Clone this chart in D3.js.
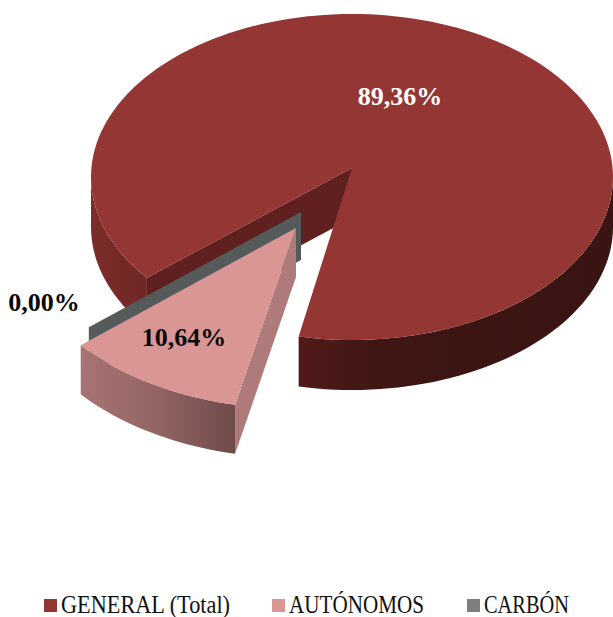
<!DOCTYPE html>
<html>
<head>
<meta charset="utf-8">
<script src="https://cdn.jsdelivr.net/npm/d3@7"></script>
<style>
  html, body { margin: 0; padding: 0; background: #fff; }
  text { font-family: "Liberation Serif", serif; }
</style>
</head>
<body>
<div id="chart"></div>
<script>
var categories = ["GENERAL (Total)", "AUTÓNOMOS", "CARBÓN"];
var values = [89.36, 10.64, 0];
var valueLabels = ["89,36%", "10,64%", "0,00%"];
var colors = ["#943634", "#d99694", "#7f7f7f"];

var width = 613,
  height = 617;
var toRad = Math.PI / 180;
var startAngle = 231.8 * toRad;
// the cut in the main slice is a little wider than the slice pulled out of it
var cutGap = 1.7 * toRad;
var pinkTurn = -0.8 * toRad;

// the pie lies tilted, so its apex sits a bit above the middle of the ellipse
var mainPie = { x: 352, y: 168, rx: 261, ry: 163, drop: 9, depth: 50 };
var pinkPie = { x: 296, y: 228, rx: 277, ry: 172, drop: 9, depth: 49 };
var greyPie = { x: 301, y: 212, rx: 270, ry: 172, drop: 9, depth: 48 };

var svg = d3
  .select("#chart")
  .append("svg")
  .attr("width", width)
  .attr("height", height)
  .style("display", "block");

var slices = d3
  .pie()
  .sort(null)
  .startAngle(startAngle)
  .endAngle(startAngle + 2 * Math.PI)(values);

var line = d3.line();

function rimPoint(pie, angle, down) {
  return [
    pie.x + pie.rx * Math.sin(angle),
    pie.y + pie.drop - pie.ry * Math.cos(angle) + (down || 0),
  ];
}

function arcPoints(pie, from, to, down) {
  var steps = Math.max(2, Math.ceil(Math.abs(to - from) / (toRad * 2)));
  return d3.range(steps + 1).map(function (i) {
    return rimPoint(pie, from + ((to - from) * i) / steps, down);
  });
}

function topFace(pie, from, to) {
  return line([[pie.x, pie.y]].concat(arcPoints(pie, from, to))) + "Z";
}

function rimBand(pie, from, to) {
  var upper = arcPoints(pie, from, to);
  var lower = arcPoints(pie, to, from, pie.depth);
  return line(upper.concat(lower)) + "Z";
}

function cutWall(pie, angle) {
  var outer = rimPoint(pie, angle);
  return (
    line([
      [pie.x, pie.y],
      outer,
      [outer[0], outer[1] + pie.depth],
      [pie.x, pie.y + pie.depth],
    ]) + "Z"
  );
}

function addGradient(id, stops) {
  var gradient = svg
    .append("defs")
    .append("linearGradient")
    .attr("id", id)
    .attr("x1", 0)
    .attr("x2", 1)
    .attr("y1", 0)
    .attr("y2", 0);
  stops.forEach(function (stop) {
    gradient
      .append("stop")
      .attr("offset", stop[0])
      .attr("stop-color", stop[1]);
  });
}

addGradient("rim-left", [
  [0, "#7c2d2b"],
  [1, "#6f2725"],
]);
addGradient("rim-right", [
  [0, "#511a19"],
  [0.25, "#3f1614"],
  [1, "#391412"],
]);
addGradient("rim-pink", [
  [0, "#a87473"],
  [0.5, "#936563"],
  [1, "#6f4b4a"],
]);

var general = slices[0],
  autonomos = slices[1],
  carbon = slices[2];

var generalEnd = general.endAngle - cutGap;
var pinkStart = autonomos.startAngle + pinkTurn,
  pinkEnd = autonomos.endAngle + pinkTurn;

// main slice: back pieces first, the flat top last
svg
  .append("path")
  .attr("d", rimBand(mainPie, 1.5 * Math.PI, general.startAngle))
  .attr("fill", "url(#rim-left)");
svg
  .append("path")
  .attr("d", cutWall(mainPie, general.startAngle))
  .attr("fill", "#5f201f");
svg
  .append("path")
  .attr("d", rimBand(mainPie, 2.5 * Math.PI, generalEnd))
  .attr("fill", "url(#rim-right)");
svg
  .append("path")
  .attr("d", topFace(mainPie, general.startAngle, generalEnd))
  .attr("fill", colors[0]);

// carbon is 0 %, only its cut wall can be seen
svg
  .append("path")
  .attr("d", cutWall(greyPie, carbon.startAngle))
  .attr("fill", "#555b5b");

// exploded slice
svg
  .append("path")
  .attr("d", cutWall(pinkPie, pinkStart))
  .attr("fill", "#ae7b7a");
svg
  .append("path")
  .attr("d", rimBand(pinkPie, pinkStart, pinkEnd))
  .attr("fill", "url(#rim-pink)");
svg
  .append("path")
  .attr("d", topFace(pinkPie, pinkStart, pinkEnd))
  .attr("fill", colors[1]);

// value labels
var labelPos = [
  { x: 400, y: 105, fill: "#fff" },
  { x: 184, y: 346, fill: "#0a0a0a" },
  { x: 44, y: 311, fill: "#0a0a0a" },
];
svg
  .selectAll("text.value")
  .data(valueLabels)
  .enter()
  .append("text")
  .attr("class", "value")
  .attr("text-anchor", "middle")
  .attr("font-size", 26)
  .attr("font-weight", "bold")
  .attr("x", function (d, i) {
    return labelPos[i].x;
  })
  .attr("y", function (d, i) {
    return labelPos[i].y;
  })
  .attr("fill", function (d, i) {
    return labelPos[i].fill;
  })
  .text(function (d) {
    return d;
  });

// legend
var legendX = [44, 272, 467];
var legendWidth = [169, 135, 85];
var legend = svg
  .selectAll("g.legend")
  .data(categories)
  .enter()
  .append("g")
  .attr("class", "legend")
  .attr("transform", function (d, i) {
    return "translate(" + legendX[i] + ",599)";
  });
legend
  .append("rect")
  .attr("width", 13)
  .attr("height", 13)
  .attr("fill", function (d, i) {
    return colors[i];
  });
legend
  .append("text")
  .attr("x", 17)
  .attr("y", 14)
  .attr("font-size", 25)
  .attr("fill", "#111")
  .attr("textLength", function (d, i) {
    return legendWidth[i];
  })
  .attr("lengthAdjust", "spacingAndGlyphs")
  .text(function (d) {
    return d;
  });
</script>
</body>
</html>
